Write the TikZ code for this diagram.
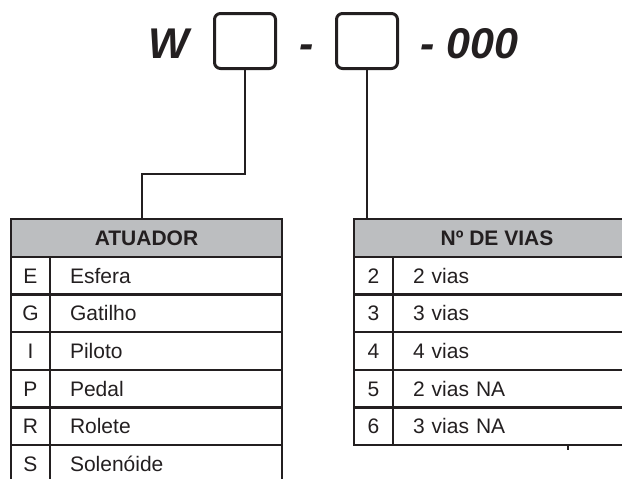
\documentclass[tikz,border=0pt]{standalone}
\usepackage{fontspec}
\setmainfont{Liberation Sans}
\usetikzlibrary{positioning}
\definecolor{ink}{HTML}{231F20}
\definecolor{hdrgray}{HTML}{BCBEC0}

\begin{document}
\begin{tikzpicture}[x=1pt, y=-1pt, line width=2.4pt, color=ink,
  code/.style={font=\fontsize{43}{50}\selectfont\bfseries\itshape, inner sep=0pt, anchor=base},
  slot/.style={draw, rounded corners=6pt, line width=3pt, minimum width=61pt, minimum height=55pt},
  hdr/.style={draw, fill=hdrgray, minimum height=38pt, font=\fontsize{21}{25}\selectfont\bfseries, text height=15pt, text depth=0pt},
  keycell/.style={draw, minimum width=39pt, minimum height=37.6pt, inner sep=0pt, font=\fontsize{21}{25}\selectfont, text height=15pt, text depth=0pt},
  desccell/.style={draw, minimum height=37.6pt, inner xsep=20pt, inner ysep=0pt, align=left, font=\fontsize{21}{25}\selectfont, text height=15pt, text depth=0pt}]
\useasboundingbox (0,0) rectangle (622,479);
\clip (0,0) rectangle (622,479);

% code line
\node[code] (wlet) at (169,58) {W};
\node[slot] (slotA) at (245,41) {};
\node[code] (dash) at (306.5,58) {-};
\node[slot] (slotV) at (367,41) {};
\node[code, anchor=base west] (suffix) at (419,58) {- 000};

% atuador table
\node[hdr, minimum width=271pt] (hdrA) at (146.5,238) {ATUADOR};
\foreach \k/\t [count=\i] in {E/Esfera,G/Gatilho,I/Piloto,P/Pedal,R/Rolete,S/Solenóide} {
  \node[keycell] (atuK\i) at (30.5,{257+37.6*(\i-0.5)}) {\k};
  \node[desccell, text width=192pt] (atuD\i) at (166,{257+37.6*(\i-0.5)}) {\t};
}

% vias table
\node[hdr, minimum width=286pt] (hdrV) at (497,238) {Nº DE VIAS};
\foreach \k/\t [count=\i] in {2/2 vias,3/3 vias,4/4 vias,5/2 vias NA,6/3 vias NA} {
  \node[keycell] (viaK\i) at (373.5,{257+37.6*(\i-0.5)}) {\k};
  \node[desccell, text width=207pt] (viaD\i) at (516.5,{257+37.6*(\i-0.5)}) {\t};
}

% connectors
\coordinate (kneeA) at (142,174);
\draw[line width=2pt] (slotA.south) |- (kneeA) -- (kneeA |- hdrA.north);
\draw[line width=2pt] (slotV.south) -- (slotV.south |- hdrV.north);
\draw[line width=1.5pt] ([xshift=51.5pt]viaD5.south) -- ++(0,4);
\end{tikzpicture}
\end{document}
